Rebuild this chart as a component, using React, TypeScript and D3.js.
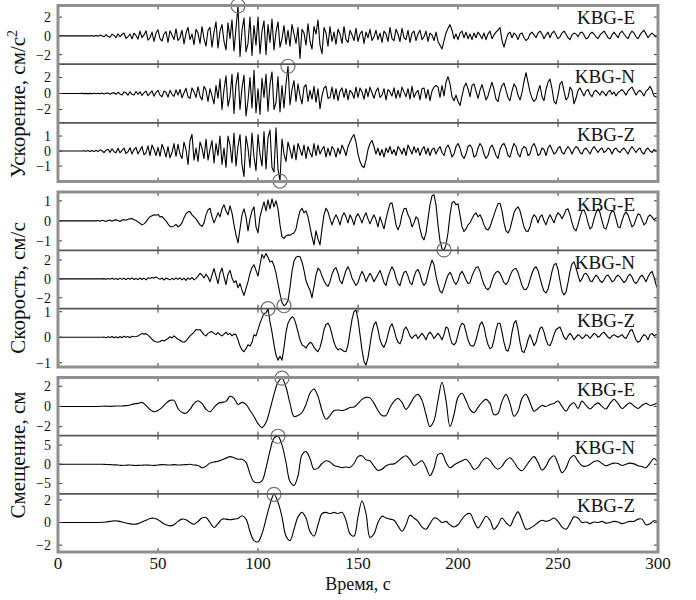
import React from 'react';
import * as d3 from 'd3';

// ---------- data ----------
// acceleration & velocity: one sample per second, t = 0..300 s
const accE = [
  0,0,0,0,0,0,0,0,0,0,
  0,0,0,0,0,0,0,0.02,-0.03,0.04,
  -0.03,0.08,0.02,-0.1,0.12,-0.05,-0.15,0.18,0.05,-0.2,
  0.22,-0.1,0.15,0.3,-0.25,-0.1,0.2,-0.32,0.28,0.05,
  -0.35,0.5,-0.2,0.1,0.55,-0.45,-0.2,0.4,-0.6,0.3,
  0.65,-0.3,-0.55,0.2,0.45,-0.7,0.55,0.1,-0.4,0.75,
  -0.5,-0.2,0.6,-0.85,0.3,0.9,-0.4,0.2,-0.95,0.7,
  0.3,-0.8,1.0,-0.3,-1.1,0.6,0.9,-1.2,0.4,1.5,
  -1.3,0.5,1.2,-0.6,-1.5,1.4,-0.3,1.7,-1.6,0.8,
  3.2,-2.2,0.6,1.9,-1.7,-0.8,2.0,-2.1,1.1,-1.0,
  2.0,-1.9,0.5,1.6,-2.0,1.2,-0.7,1.8,-1.5,0.4,
  1.5,-1.2,-0.3,1.1,-0.9,0.6,-1.1,1.2,0.2,-0.8,
  0.9,-2.4,0.7,0.3,-1.0,1.3,-0.6,-1.4,1.0,0.2,
  1.7,-1.0,-1.9,0.9,0.3,-1.1,1.0,-0.6,0.4,-0.9,
  0.7,0.2,-0.8,1.0,-0.4,-0.7,0.6,0.1,-0.5,0.8,
  -0.6,0.2,0.5,-0.8,0.4,-0.2,0.7,-0.5,-0.1,0.6,
  -0.4,0.3,-0.7,0.5,0.2,-0.6,0.9,-0.3,-0.5,0.7,
  0.2,-0.6,0.8,-0.2,-0.4,0.6,-0.7,0.3,0.5,-0.5,
  0.2,0.6,-0.4,-0.1,0.5,-0.6,0.3,0.1,-0.5,0.4,
  -0.6,-1.0,-1.4,-0.5,0.3,0.8,1.2,0.6,-0.3,0.2,
  -0.4,0.3,0.5,-0.2,0.4,-0.3,0.2,-0.4,0.3,-0.2,
  0.4,0.1,-0.3,0.3,-0.4,0.2,0.5,-0.3,0.1,0.4,
  0.6,0.9,-0.5,-1.2,-0.4,0.2,0.4,-0.2,0.3,0.1,
  -0.4,0.2,0.3,-0.2,-0.5,-0.3,0.2,0.4,0.1,-0.2,
  0.3,0.5,0.2,-0.3,0.1,0.4,-0.2,0.3,0.5,0.1,
  -0.3,-0.1,0.3,0.5,0.2,-0.2,-0.4,0.1,0.3,0.2,
  -0.1,0.3,0.4,0.1,-0.3,-0.2,0.2,0.4,0.2,-0.1,
  -0.3,0.1,0.3,0.5,0.2,-0.2,-0.3,0.1,0.4,0.1,
  -0.2,0.3,0.5,0.2,-0.1,-0.3,0.2,0.5,0.3,-0.1,
  -0.3,0.1,0.4,0.6,0.2,-0.2,0.1,0.3,0.1,-0.1,
  0.1,
];
const accN = [
  0,0,0,0,0,0,0,0,0,0,
  0,0,0.01,-0.01,0.02,-0.02,0.02,-0.03,0.03,-0.03,
  0.04,-0.02,0.05,-0.06,0.02,0.07,-0.08,0.05,0.1,-0.1,
  0.15,-0.05,-0.18,0.2,0.08,-0.2,0.22,-0.1,-0.18,0.25,
  -0.1,0.22,-0.25,0.1,0.3,-0.28,0.05,0.32,-0.35,0.15,
  0.4,-0.2,-0.4,0.3,0.15,-0.45,0.4,-0.1,-0.35,0.45,
  -0.2,0.5,-0.55,0.1,0.65,-0.4,-0.6,0.7,0.2,-0.5,
  0.85,-0.3,-0.8,0.9,0.4,-1.0,0.6,-0.3,-1.3,1.0,
  -0.6,1.8,-2.0,0.5,2.2,-1.6,-0.4,2.4,-2.5,1.1,
  2.6,-2.0,0.7,2.3,-2.8,-0.9,2.0,-1.8,2.9,-2.4,
  0.6,-2.6,1.9,-0.5,2.4,-2.2,1.2,2.7,-2.0,-1.1,
  2.1,-2.3,1.0,-1.8,1.2,3.4,-1.4,0.5,1.6,-1.0,
  1.2,-0.3,-1.3,0.8,1.1,-1.0,0.4,-0.7,0.9,-1.1,
  0.6,-1.9,-0.3,0.7,0.9,-0.6,-0.5,0.8,-0.7,0.6,
  -0.9,0.3,0.7,-0.5,0.6,-0.8,0.4,0.1,-0.6,0.8,
  -0.5,0.7,0.2,-0.7,0.6,-0.4,0.8,0.1,-0.6,0.3,
  0.7,-0.5,-0.2,0.6,-0.8,0.5,0.2,-0.3,0.7,-0.6,
  0.4,-0.5,0.8,0.2,-0.4,0.6,-0.7,0.9,-0.5,0.1,
  0.4,-0.8,0.6,0.7,-0.6,0.5,-0.9,0.3,0.8,1.0,
  0.8,-0.5,1.0,-0.3,1.4,2.1,1.2,-0.4,-0.9,-0.2,
  -1.0,-1.5,-0.3,0.8,1.3,0.6,-0.4,1.0,1.2,0.3,
  -0.6,0.4,1.1,0.2,-0.8,-0.3,0.6,1.4,0.5,-0.7,
  -1.0,0.2,1.0,1.3,0.4,-0.5,-0.9,0.3,1.2,0.8,
  -0.2,-0.8,0.1,1.5,2.6,1.4,0.2,-0.6,-1.0,-0.7,
  0.3,1.0,-0.4,-0.9,0.5,1.4,1.8,0.6,-1.0,-1.3,
  -0.2,1.2,1.5,0.3,-0.8,-0.5,0.8,0.4,-1.3,-0.6,
  0.4,0.7,0.2,-0.3,0.3,0.5,-0.1,-0.4,0.2,0.4,
  0.1,-0.2,0.3,0.1,-0.3,0.2,0.4,-0.1,0.2,-0.3,
  0.1,0.3,0.5,0.2,-0.2,0.3,0.6,0.8,0.3,-0.2,
  0.2,0.4,0.1,-0.3,0.3,0.5,0.9,0.4,-0.3,-0.4,
  -0.5,
];
const accZ = [
  0,0,0,0,0,0,0,0,0,0,
  0,0,0,0.02,-0.02,0.03,-0.03,0.04,-0.04,0.05,
  -0.04,0.08,0.02,-0.1,0.06,0.12,-0.09,0.15,-0.05,-0.12,
  0.18,-0.12,0.05,0.2,-0.16,-0.05,0.22,-0.2,0.1,0.25,
  -0.2,0.05,0.3,-0.25,-0.1,0.35,-0.3,0.4,0.1,-0.3,
  0.25,-0.35,0.45,0.1,-0.4,0.3,-0.45,-0.1,0.5,-0.35,
  0.45,-0.2,-0.5,0.6,0.1,-0.9,0.7,1.1,-0.6,0.2,
  -0.7,0.6,0.2,-0.5,0.8,-0.6,0.1,0.7,-0.8,0.5,
  -0.3,1.0,-0.9,0.2,-1.1,1.0,0.4,-0.8,1.2,-1.0,
  0.3,1.1,-0.9,-1.7,1.0,0.2,-1.1,1.2,-0.4,-1.3,
  1.1,-0.2,-1.0,1.3,-1.2,0.9,1.4,-1.1,-1.4,1.55,
  -1.2,-2.0,0.8,-0.2,-0.7,0.6,0.1,-0.5,0.4,-0.6,
  0.5,0.1,-0.3,0.4,-0.5,0.3,-0.1,-0.4,0.5,-0.3,
  0.4,-0.2,0.1,0.3,-0.4,0.2,-0.3,0.3,0.1,-0.4,
  0.2,-0.2,0.4,0.1,-0.3,0.3,0.6,0.9,1.1,0.6,
  -0.2,-0.7,-1.0,-1.1,-0.6,0.1,0.5,0.7,0.3,-0.2,
  0.2,-0.3,0.1,-0.4,0.2,-0.1,0.3,-0.2,0.1,-0.3,
  0.3,0.1,-0.2,0.2,-0.3,0.4,0.1,-0.2,0.3,-0.1,
  0.2,-0.3,0.1,0.3,-0.2,0.2,-0.3,0.1,0.2,-0.2,
  0.1,0.3,-0.1,-0.3,0.2,0.4,0.1,-0.4,-0.2,0.3,
  0.5,0.2,-0.3,-0.5,-0.2,0.3,0.4,0.2,-0.4,-0.3,
  0.2,0.5,0.3,-0.2,-0.5,-0.3,0.2,0.4,0.1,-0.3,
  -0.5,0.1,0.4,0.5,0.2,-0.3,-0.4,0.1,0.5,0.3,
  -0.2,-0.4,0.1,0.3,0.2,-0.3,-0.2,0.3,0.5,0.2,
  -0.3,-0.2,0.2,0.1,-0.3,0.2,0.4,0.1,-0.2,-0.1,
  0.2,0.3,-0.1,-0.2,0.1,0.3,0.1,-0.2,0.1,0.3,
  0.2,-0.1,-0.2,0.1,0.2,0,-0.2,0.1,0.3,0.1,
  -0.1,0.1,0.2,-0.1,0,0.2,0.1,-0.2,0.1,0.2,
  0,-0.1,0.1,0.2,0,-0.2,0.1,0.3,0.1,-0.1,
  0.1,0.2,-0.1,-0.2,0.1,0.2,0,-0.1,0.1,0,
  0.05,
];
const velE = [
  0,0,0,0,0,0,0,0,0,0,
  0,0,0,0,0,0,0,0,0,0,
  0.02,-0.02,0.03,0.01,-0.03,0.02,0.04,-0.02,0.03,0.05,
  0.02,-0.03,0.04,0.06,0.03,0.08,0.1,0.12,0.06,0.02,
  -0.05,-0.12,-0.2,-0.15,-0.05,0.1,0.2,0.25,0.3,0.28,
  0.32,0.2,0.22,0.1,0,-0.15,-0.28,-0.3,-0.25,-0.18,
  -0.3,-0.22,-0.1,0.15,0.35,0.45,0.47,0.3,0.2,0.1,
  -0.05,-0.2,-0.28,-0.1,0.3,0.55,0.63,0.2,-0.1,0.15,
  0.4,0.2,0.6,0.8,0.5,0.3,0.75,0.4,-0.2,-0.7,
  -1.1,-0.4,0.3,0.6,0.2,-0.5,0.1,0.5,0.7,-0.3,
  -0.6,0.2,0.6,0.95,0.5,1.05,0.6,1.1,0.7,1.0,
  0.6,-0.2,-0.8,-0.87,-0.75,-0.7,-0.72,-0.65,-0.6,-0.4,
  0.1,0.5,0.63,0.4,0.5,0.2,-0.3,-0.8,-1.2,-0.5,
  -0.9,-1.2,-0.4,0.3,0.63,0.45,0.1,-0.2,0.1,0.3,
  0.1,-0.2,0.2,0.4,0.2,-0.1,0.3,0.1,-0.2,0.2,
  0.35,0.15,-0.1,0.2,0.4,0.1,-0.15,0.1,0.3,0.05,
  -0.3,0.2,-0.1,-0.4,0.1,0.5,0.85,0.9,0.4,-0.2,
  -0.45,-0.2,0.3,0.6,0.63,0.3,0.1,-0.3,-0.1,0.2,
  0.1,-0.4,-0.8,-0.95,-0.6,0.1,0.8,1.25,1.3,0.8,
  -0.2,-1.0,-1.4,-1.45,-1.2,-0.6,0.3,0.9,0.97,0.8,
  0.85,0.3,-0.3,-0.53,-0.4,-0.2,-0.1,0.1,0.3,0.4,
  0.2,0.3,0.1,-0.2,-0.4,-0.45,-0.3,0,0.3,0.6,
  0.85,0.88,0.5,-0.1,-0.5,-0.6,-0.4,0,0.4,0.6,
  0.7,0.5,0.1,-0.3,-0.5,-0.53,-0.3,0.1,0.3,0.2,
  -0.1,0.2,0.3,0,-0.2,0.1,0.3,0.1,-0.1,0.2,
  0.4,0.3,0.1,0.3,0.55,0.6,0.3,-0.1,-0.4,-0.5,
  -0.2,0.2,0.5,0.55,0.3,-0.1,-0.4,-0.3,0.1,0.4,
  0.6,0.4,0,-0.35,-0.4,-0.1,0.3,0.5,0.45,0.1,
  -0.3,-0.35,0,0.3,0.45,0.3,0,-0.3,-0.2,0.1,
  0.35,0.3,0.05,-0.2,-0.1,0.2,0.3,0.2,0.05,0.15,
  0.1,
];
const velN = [
  0,0,0,0,0,0,0,0,0,0,
  0,0,0,0,0,0,0,0,0,0,
  0,0,0,0.03,-0.04,0.05,-0.03,0.06,-0.05,0.04,
  -0.06,0.08,-0.05,0.07,-0.08,0.06,-0.04,0.1,-0.07,0.05,
  -0.08,0.1,-0.06,0.08,-0.1,0.12,0.05,0.15,0.1,0.2,
  0.08,-0.05,0.1,-0.12,0.08,0,-0.1,0.06,-0.08,0.1,
  -0.05,0.12,-0.1,0.08,-0.15,0.1,-0.05,0.15,-0.1,0.05,
  0.3,0.6,0.4,0.1,0.5,0.2,-0.3,0.4,1.1,0.3,
  -0.5,0.6,1.15,0.2,-0.6,0.5,0.9,0.1,-0.4,-0.2,
  -0.95,-0.5,-1.2,-1.75,-1.0,-0.3,0.6,1.2,1.5,0.9,
  0.3,1.5,2.6,2.2,2.7,2.3,1.8,1.9,1.4,0.6,
  -0.5,-1.6,-2.5,-2.85,-2.7,-2.3,-0.9,0.8,1.9,2.3,
  2.4,2.35,1.8,0.9,-0.2,-0.75,-1.2,-2.0,-0.8,0.4,
  1.15,0.9,0.3,-0.2,-0.6,-0.8,-0.3,0.5,1.0,1.2,
  0.6,-0.2,-0.5,0.2,0.9,1.3,0.8,0.1,-0.3,-0.7,
  -0.4,0.3,0.8,0.4,-0.3,0.2,0.6,0.2,-0.3,0.1,
  0.5,0.9,0.3,-0.4,-0.7,0.2,0.8,1.3,0.9,0.1,
  -0.5,-0.7,0.1,0.7,0.8,0.3,-0.4,-0.6,0.2,0.8,
  1.0,0.5,-0.3,-0.7,-0.4,0.5,1.3,2.0,1.5,0.3,
  -0.6,-1.3,-1.5,-0.9,-0.2,0.4,0.7,0.3,-0.3,-0.6,
  -0.2,0.5,0.8,0.4,-0.1,-0.5,-0.4,0.3,0.8,1.2,
  1.3,0.8,0,-0.6,-1.0,-1.15,-0.9,-0.2,0.4,0.7,
  0.8,0.6,0.1,-0.4,-0.6,-0.3,0.3,0.8,1.05,1.1,
  0.7,0,-0.7,-1.1,-1.15,-0.8,-0.1,0.6,1.1,1.3,
  0.9,0.1,-0.7,-1.3,-1.5,-1.1,-0.2,0.8,1.5,1.65,
  1.0,-0.2,-1.3,-1.7,-1.4,-0.4,0.8,1.6,1.8,1.2,
  0.4,-0.3,0,0.5,0.6,0.3,-0.2,-0.3,0.1,0.4,
  0.2,-0.2,-0.4,-0.1,0.3,0.4,0.1,-0.3,-0.2,0.2,
  0.4,0.2,-0.1,-0.4,-0.2,0.3,0.5,0.2,-0.3,-0.5,
  -0.2,0.2,0.4,0.1,-0.3,0.2,0.6,0.8,0.2,-0.6,
  -1.15,
];
const velZ = [
  0,0,0,0,0,0,0,0,0,0,
  0,0,0,0,0,0,0,0,0,0,
  0,0,0,0.01,-0.02,0.02,-0.01,0.03,-0.02,0.02,
  -0.03,0.03,-0.02,0.04,0,0.03,-0.02,0.04,0.02,0.03,
  0.05,0.1,0.15,0.12,0.14,0.08,0,-0.08,-0.15,-0.18,
  -0.2,-0.17,-0.12,-0.15,-0.1,-0.05,0.02,-0.03,0.05,-0.02,
  -0.08,-0.12,-0.18,-0.2,-0.15,-0.05,0.05,0.12,0.2,0.3,
  0.28,0.3,0.2,0.1,0.05,0.15,0.2,0.22,0.15,0.1,
  0.18,0.1,0.05,0.12,0.2,0.1,0.15,0.05,0.12,0.1,
  -0.1,-0.35,-0.5,-0.57,-0.45,-0.3,-0.35,-0.2,0.1,0.05,
  0.3,0.55,0.75,0.94,0.95,1.12,0.6,0.2,-0.3,-0.7,
  -0.9,-0.75,-0.9,-0.4,0.2,0.55,0.7,0.8,0.75,0.5,
  0.2,-0.1,-0.3,-0.35,-0.43,-0.3,-0.2,-0.25,-0.4,-0.5,
  -0.57,-0.4,-0.1,0.3,0.5,0.55,0.4,0.1,-0.2,-0.4,
  -0.5,-0.45,-0.5,-0.55,-0.57,-0.3,0.2,0.7,1.0,1.07,
  0.7,0.1,-0.5,-0.95,-1.1,-0.8,-0.3,0.2,0.5,0.6,
  0.3,-0.1,-0.3,-0.4,-0.2,0.1,0.4,0.53,0.3,0,
  -0.2,-0.26,-0.05,0.3,0.4,0.25,0.05,-0.05,0.05,0.1,
  -0.05,0.05,0.15,0.05,-0.1,0.1,0.2,0.1,-0.05,0.05,
  0.15,0.05,-0.1,0.1,0.4,0.35,0,-0.25,-0.3,-0.2,
  0.1,0.4,0.55,0.5,0.2,-0.1,-0.3,-0.35,-0.33,-0.1,
  0.2,0.5,0.6,0.4,0,-0.3,-0.45,-0.4,-0.1,0.3,
  0.55,0.55,0.2,-0.2,-0.5,-0.55,-0.3,0.2,0.55,0.65,
  0.3,-0.2,-0.55,-0.6,-0.4,-0.1,0.1,-0.1,-0.33,-0.2,
  0.1,0.35,0.4,0.2,-0.1,-0.3,-0.33,-0.15,0.1,0.3,
  0.35,0.4,0.2,0,-0.1,0.05,0.15,0.05,-0.1,0,
  0.1,0.05,-0.05,0,0.1,0.05,-0.05,0.05,0.15,0.1,
  0,0.05,0.15,0.2,0.1,0,-0.05,0.05,0.1,0.05,
  0,0.05,0.1,0,-0.05,0.1,0.25,0.3,0.1,-0.1,
  -0.2,-0.15,0,0.1,0.05,-0.1,0.1,0.15,0.05,0.1,
  0.1,
];
// displacement: one sample every 2 s, t = 0..300 s
const dispE = [
  0,0,0,0,0,0,0,0,0,0,
  0,0.02,0.03,0.01,0.03,0.05,0.04,0.08,0.15,0.25,
  0.3,0.4,0.1,-0.3,-0.53,-0.4,-0.1,0.3,0.6,0.6,
  -0.2,-0.6,-0.67,-0.3,0.3,0.57,0.3,-0.3,-0.53,-0.1,
  0.3,0.4,0.5,1.0,0.8,0.2,0.4,0.2,-0.4,-1.0,
  -1.7,-2.1,-1.6,-0.3,1.2,2.4,2.8,1.9,0.3,-1.0,
  -0.9,-0.6,0.2,1.3,1.73,1.0,-0.4,-1.27,-0.9,-0.4,
  -0.35,-0.4,-0.3,-0.1,-0.05,0.3,0.7,0.9,0.85,0.3,
  -0.4,-0.9,-0.9,-0.1,0.5,0.8,0.4,-0.3,0.2,0.9,
  1.2,0.6,-0.8,-2.0,-1.4,0.6,2.4,0.6,-2.0,-0.8,
  0.9,1.3,0.6,-0.3,-0.63,-0.1,0.4,0.7,0.3,-0.8,
  -0.7,0.5,1.2,0.3,-0.97,-0.5,0.8,1.2,0.4,-0.47,
  -0.2,0.1,0,0.2,0.3,0.53,0,-0.47,0.1,0.37,
  -0.2,0.53,0.1,-0.25,0.1,0.35,0,-0.25,0.3,0.7,
  0.3,-0.2,0.1,0.35,0.05,-0.2,0.1,0.3,0.1,0.2,
  0.4,
];
const dispN = [
  0,0,0,0,0,0,0,0,0,0,
  0,0,-0.05,-0.1,-0.15,-0.2,-0.3,-0.25,-0.2,-0.3,
  -0.3,-0.25,-0.2,-0.25,-0.3,-0.2,-0.1,-0.15,-0.2,-0.1,
  -0.2,-0.15,-0.1,0,-0.2,-0.3,-0.9,-0.5,0.3,0.6,
  0.8,1.2,1.6,2.0,1.7,1.3,1.3,0.5,-2.5,-4.6,
  -4.8,-4.3,-1.0,3.5,6.8,7.3,5.0,0.5,-4.5,-5.5,
  -3.0,2.5,3.3,1.5,-1.3,-1.0,0.2,0.9,0.6,-0.3,
  -0.6,-0.9,-0.7,-0.8,0.2,2.0,2.2,1.2,0.9,-0.5,
  -1.6,-1.3,-0.4,0,0.1,0.8,1.7,2.2,1.2,-0.3,
  0.3,0.9,-0.8,-3.0,-1.0,2.5,2.8,0.5,-0.9,-0.2,
  0.4,0.9,1.3,0.2,-1.3,-0.8,0.8,1.7,1.0,-0.5,
  -1.3,-0.5,1.0,1.7,0.6,-1.0,-1.7,-0.5,1.0,2.0,
  0.5,-1.5,-0.5,1.5,2.2,0.2,-2.2,-1.0,1.5,2.3,
  0.8,-0.4,-0.5,0,0.7,0.9,0.2,-0.4,0,0.3,
  0.2,-0.3,0,0.3,0.1,-0.4,-0.6,-0.9,0.3,1.5,
  0.5,
];
const dispZ = [
  0,0,0,0,0,0,0,0,0,0,
  0,0.02,0.05,0.1,0.15,0.12,0.05,-0.05,-0.12,-0.15,
  -0.1,0.05,0.2,0.35,0.38,0.25,0,-0.2,-0.3,-0.2,
  0.1,0.3,0.25,0,-0.15,0.1,0.4,0.44,0,-0.44,
  -0.1,0.3,0.3,0.25,0.3,0.35,0.6,0.3,-0.8,-1.6,
  -1.7,-1.0,0.3,1.6,2.5,1.8,0.5,-1.2,-1.6,-0.6,
  0.5,0.9,0.4,-0.8,-1.2,-0.2,0.8,0.9,0.8,0.9,
  0.8,0.9,0.2,-1.0,-1.2,0.5,1.9,0.8,-1.3,-1.0,
  0,0.56,0.4,0.3,0.2,-0.3,-0.77,-0.2,0.65,0.4,
  0.1,-0.4,-0.6,-0.1,0.4,0.3,0,0.1,-0.2,-0.4,
  -0.2,0.3,0.7,0.8,0.1,-0.47,0,0.56,0.2,-0.6,
  -0.2,0.4,0,-0.3,0.4,0.94,0.2,-0.6,-0.5,-0.3,
  0,0.2,0.1,0.2,0.4,0.1,-0.4,-0.6,-0.1,0.5,
  0.4,0,0.05,-0.1,0.05,0,0.1,-0.05,0,0.1,
  0.05,-0.1,0,0.1,0.1,0.3,0.3,-0.2,-0.1,0.15,
  0.1,
];

const timeTicks = [0, 50, 100, 150, 200, 250, 300];
const componentLabels = ['KBG-E', 'KBG-N', 'KBG-Z'];
const groupTitles = ['Ускорение, см/с', 'Скорость, см/с', 'Смещение, см'];
const titleSup = ['2', '', ''];
const xTitle = 'Время, с';

const accTicks = [[-2, 0, 2], [-2, 0, 2], [-1, 0, 1]];
const velTicks = [[-1, 0, 1], [-2, 0, 2], [-1, 0, 1]];
const dispTicks = [[-2, 0, 2], [-5, 0, 5], [-2, 0, 2]];

const accDomains: [number, number][] = [[-3.02, 3.24], [-3.66, 3.66], [-2.03, 1.88]];
const velDomains: [number, number][] = [[-1.47, 1.44], [-3.16, 3.03], [-1.17, 1.12]];
const dispDomains: [number, number][] = [[-2.9, 2.87], [-7.7, 7.45], [-2.61, 2.54]];

// ---------- layout ----------
const W = 696;
const H = 600;
const FONT = '"Liberation Serif", "Times New Roman", Times, serif';

const groups = [
  { top: 5.5, bottom: 181.5, titleY: 104, series: [accE, accN, accZ], step: 1, ticks: accTicks, domains: accDomains },
  { top: 192, bottom: 367, titleY: 288, series: [velE, velN, velZ], step: 1, ticks: velTicks, domains: velDomains },
  { top: 377.5, bottom: 552, titleY: 455, series: [dispE, dispN, dispZ], step: 2, ticks: dispTicks, domains: dispDomains },
];

const fmt = (v: number) => (v < 0 ? '\u2212' + Math.abs(v) : String(v));

export default function App() {
  const x = d3.scaleLinear().domain([0, 300]).range([58, 658]);
  const innerTicks = timeTicks.filter((t) => t > 0 && t < 300);

  return (
    <svg width={W} height={H} style={{ position: 'absolute', left: 0, top: 0, background: '#fff' }}
      fontFamily={FONT}>
      <rect x={0} y={0} width={W} height={H} fill="#fff" />
      {groups.map((g, gi) => {
        const ph = (g.bottom - g.top) / 3;
        return (
          <g key={gi}>
            {g.series.map((vals, pi) => {
              const pTop = g.top + pi * ph;
              const pBot = pTop + ph;
              const y = d3.scaleLinear().domain(g.domains[pi]).range([pBot, pTop]);
              const line = d3.line<number>()
                .x((_, i) => x(i * g.step))
                .y((d) => y(d))
                .curve(g.step > 1 ? d3.curveCatmullRom.alpha(0.5) : d3.curveLinear);
              const mi = d3.maxIndex(vals, (v) => Math.abs(v));
              const clipId = `clip-${gi}-${pi}`;
              return (
                <g key={pi}>
                  <clipPath id={clipId}>
                    <rect x={x(0)} y={pTop} width={x(300) - x(0)} height={ph} />
                  </clipPath>
                  <path d={line(vals) || ''} fill="none" stroke="#000" strokeWidth={1.1}
                    strokeLinejoin="round" clipPath={`url(#${clipId})`} />
                  {g.ticks[pi].map((t) => (
                    <g key={t}>
                      <line x1={x(0)} x2={x(0) + 4} y1={y(t)} y2={y(t)} stroke="#333" strokeWidth={1} />
                      <line x1={x(300) - 4} x2={x(300)} y1={y(t)} y2={y(t)} stroke="#333" strokeWidth={1} />
                      <text x={51} y={y(t)} dy="0.35em" textAnchor="end" fontSize={14} fill="#111">{fmt(t)}</text>
                    </g>
                  ))}
                  {innerTicks.map((t) => (
                    <g key={'x' + t}>
                      <line x1={x(t)} x2={x(t)} y1={pTop} y2={pTop + 4} stroke="#333" strokeWidth={1} />
                      <line x1={x(t)} x2={x(t)} y1={pBot - 4} y2={pBot} stroke="#333" strokeWidth={1} />
                    </g>
                  ))}
                  <text x={635} y={pTop + 18.5} textAnchor="end" fontSize={19} fill="#111">{componentLabels[pi]}</text>
                  <circle cx={x(mi * g.step)} cy={y(vals[mi])} r={7} fill="none" stroke="#707070" strokeWidth={1.2} />
                </g>
              );
            })}
            {[1, 2].map((k) => (
              <line key={k} x1={x(0)} x2={x(300)} y1={g.top + k * ph} y2={g.top + k * ph} stroke="#555" strokeWidth={1.6} />
            ))}
            <rect x={x(0)} y={g.top} width={x(300) - x(0)} height={g.bottom - g.top} fill="none" stroke="#8f8f8f" strokeWidth={3} />
            <text transform={`translate(25,${g.titleY}) rotate(-90)`} textAnchor="middle" fontSize={21} fill="#111">
              {groupTitles[gi]}
              {titleSup[gi] ? <tspan dy={-8} fontSize={14}>{titleSup[gi]}</tspan> : null}
            </text>
          </g>
        );
      })}
      {timeTicks.map((t) => (
        <text key={t} x={x(t)} y={569} textAnchor="middle" fontSize={17} fill="#111">{t}</text>
      ))}
      <text x={x(150)} y={590} textAnchor="middle" fontSize={18} fill="#111">{xTitle}</text>
    </svg>
  );
}
